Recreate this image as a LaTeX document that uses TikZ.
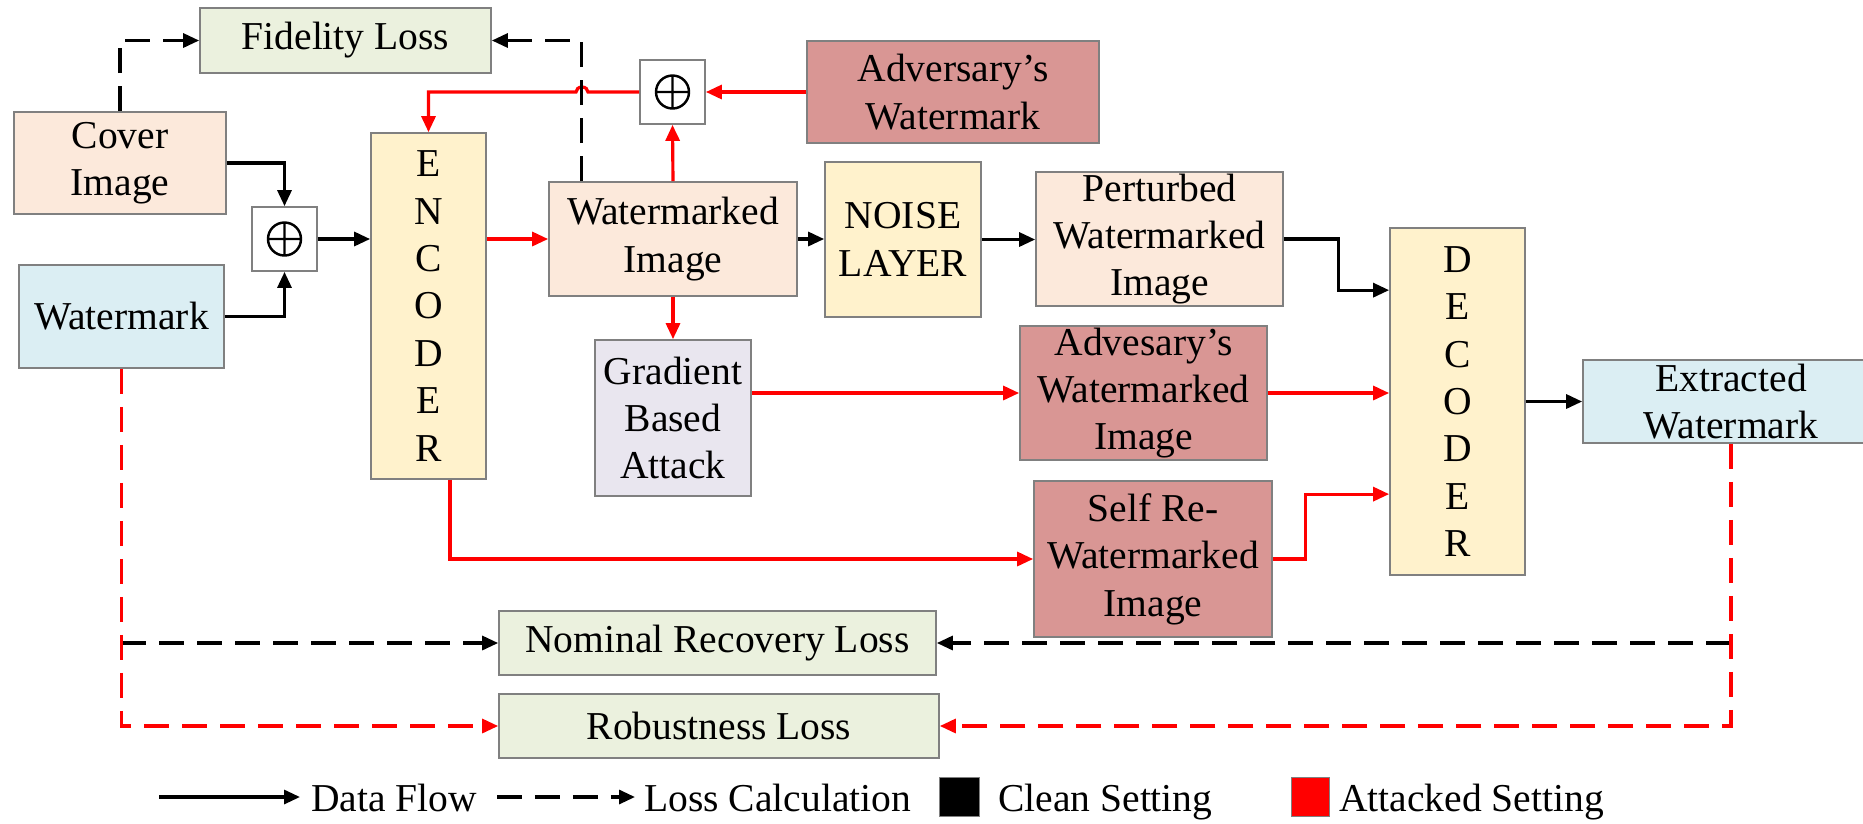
\documentclass[tikz,border=0pt]{standalone}
\usepackage{fontspec}
\setmainfont{Liberation Serif}
\usepackage{tikz}
\usetikzlibrary{arrows.meta, positioning}
\definecolor{lossgreen}{RGB}{235, 241, 222}
\definecolor{imgpeach}{RGB}{252, 233, 219}
\definecolor{wmblue}{RGB}{219, 238, 243}
\definecolor{codeyellow}{RGB}{255, 242, 204}
\definecolor{advred}{RGB}{217, 150, 148}
\definecolor{attackgray}{RGB}{233, 230, 239}
\definecolor{boxgray}{RGB}{128, 128, 128}

\begin{document}
\begin{tikzpicture}[x=0.02cm, y=-0.02cm,
                    font=\fontsize{22.5}{27}\selectfont,
                    box/.style={draw=boxgray, line width=1pt, align=center, inner sep=0pt},
                    addbox/.style={box, fill=white, minimum width=1.30cm, minimum height=1.28cm,
                        path picture={\draw[black, line width=1.4pt]
                            (path picture bounding box.center) circle[radius=0.33cm]
                            ([xshift=-0.33cm]path picture bounding box.center) -- ([xshift=0.33cm]path picture bounding box.center)
                            ([yshift=-0.33cm]path picture bounding box.center) -- ([yshift=0.33cm]path picture bounding box.center);}},
                    flow/.style={line width=1.8pt, -{Triangle[length=0.32cm, width=0.28cm]}},
                    atk/.style={flow, red},
                    loss/.style={flow, dash pattern=on 0.5cm off 0.26cm},
                    atkloss/.style={loss, red}]
                    \useasboundingbox (0,0) rectangle (1863,823);

                    \node[box, fill=lossgreen, minimum width=5.82cm, minimum height=1.30cm] (fid) at (345.5,40.5) {Fidelity Loss};
                    \node[box, fill=imgpeach, minimum width=4.24cm, minimum height=2.04cm] (cover) at (120,163) {Cover\\Image};
                    \node[box, fill=wmblue, minimum width=4.10cm, minimum height=2.06cm] (wm) at (121.5,316.5) {Watermark};
                    \node[addbox] (addA) at (284.5,239) {};
                    \node[box, fill=codeyellow, minimum width=2.30cm, minimum height=6.92cm] (enc) at (428.5,306) {E\\N\\C\\O\\D\\E\\R};
                    \node[box, fill=imgpeach, minimum width=4.96cm, minimum height=2.28cm] (wimg) at (673,239) {Watermarked\\Image};
                    \node[addbox] (addB) at (672.5,92) {};
                    \node[box, fill=advred, minimum width=5.84cm, minimum height=2.04cm] (advwm) at (953,92) {Adversary’s\\Watermark};
                    \node[box, fill=codeyellow, minimum width=3.12cm, minimum height=3.10cm] (noise) at (903,239.5) {NOISE\\LAYER};
                    \node[box, fill=imgpeach, minimum width=4.94cm, minimum height=2.68cm] (pert) at (1159.5,239) {Perturbed\\Watermarked\\Image};
                    \node[box, fill=attackgray, minimum width=3.12cm, minimum height=3.12cm] (grad) at (673,418) {Gradient\\Based\\Attack};
                    \node[box, fill=advred, minimum width=4.94cm, minimum height=2.68cm] (advimg) at (1143.5,393) {Advesary’s\\Watermarked\\Image};
                    \node[box, fill=advred, minimum width=4.76cm, minimum height=3.12cm] (self) at (1153,559) {Self Re-\\Watermarked\\Image};
                    \node[box, fill=codeyellow, minimum width=2.70cm, minimum height=6.94cm] (dec) at (1457.5,401.5) {D\\E\\C\\O\\D\\E\\R};
                    \node[box, fill=wmblue, minimum width=5.92cm, minimum height=1.66cm] (ext) at (1731,401.5) {Extracted\\Watermark};
                    \node[box, fill=lossgreen, minimum width=8.74cm, minimum height=1.28cm] (nom) at (717.5,643) {Nominal Recovery Loss};
                    \node[box, fill=lossgreen, minimum width=8.80cm, minimum height=1.28cm] (rob) at (719,726) {Robustness Loss};

                    \draw[flow] (cover.east) -| (addA.north);
                    \draw[flow] (wm.east) -| (addA.south);
                    \draw[flow] (addA.east) -- (addA.east -| enc.west);
                    \draw[flow] (wimg.east) -- (wimg.east -| noise.west);
                    \draw[flow] (noise.east) -- (noise.east -| pert.west);
                    \draw[flow] (pert.east) -- ++(55,0) |- ([yshift=-1.26cm]dec.north west);
                    \draw[flow] (dec.east |- ext.west) -- (ext.west);

                    \coordinate (hop) at (582,92);
                    \draw[atk] (wimg.west -| enc.east) -- (wimg.west);
                    \draw[atk] (wimg.north) -- (addB.south);
                    \draw[atk] (advwm.west) -- (addB.east);
                    \draw[atk] (addB.west) -- ([xshift=0.12cm]hop) arc[start angle=0, end angle=180, x radius=0.12cm, y radius=0.1cm] -- (hop -| enc.north) -- (enc.north);
                    \draw[atk] (wimg.south) -- (grad.north);
                    \draw[atk] (advimg.west -| grad.east) -- (advimg.west);
                    \draw[atk] (advimg.east) -- (advimg.east -| dec.west);
                    \draw[atk] ([xshift=0.43cm]enc.south) |- (self.west);
                    \draw[atk] (self.east) -- ++(33,0) |- ([yshift=-5.34cm]dec.north west);

                    \draw[loss] (cover.north) |- (fid.west);
                    \draw[loss] ([xshift=0.66cm]wimg.north west) |- (fid.east);
                    \draw[loss] (nom.west -| wm.south) -- (nom.west);
                    \draw[loss] (nom.east -| ext.south) -- (nom.east);
                    \draw[atkloss] (wm.south) |- (rob.west);
                    \draw[atkloss] (ext.south) |- (rob.east);

                    \coordinate (flowA) at (159,797);
                    \coordinate (flowB) at (300,797);
                    \coordinate (lossA) at (497,797);
                    \coordinate (lossB) at (635,797);
                    \draw[flow] (flowA) -- (flowB);
                    \draw[loss] (lossA) -- (lossB);
                    \node[anchor=base west, inner sep=0pt] (flowtext) at (311,811) {Data Flow};
                    \node[anchor=base west, inner sep=0pt] (losstext) at (644,811) {Loss Calculation};
                    \node[draw=boxgray, fill=black, inner sep=0pt, minimum width=0.80cm, minimum height=0.78cm] (cleanbox) at (959,796.5) {};
                    \node[anchor=base west, inner sep=0pt] (cleantext) at (998,811) {Clean Setting};
                    \node[draw=boxgray, fill=red, inner sep=0pt, minimum width=0.76cm, minimum height=0.78cm] (atkbox) at (1310,796.5) {};
                    \node[anchor=base west, inner sep=0pt] (atktext) at (1339,811) {Attacked Setting};
                \end{tikzpicture}
\end{document}
